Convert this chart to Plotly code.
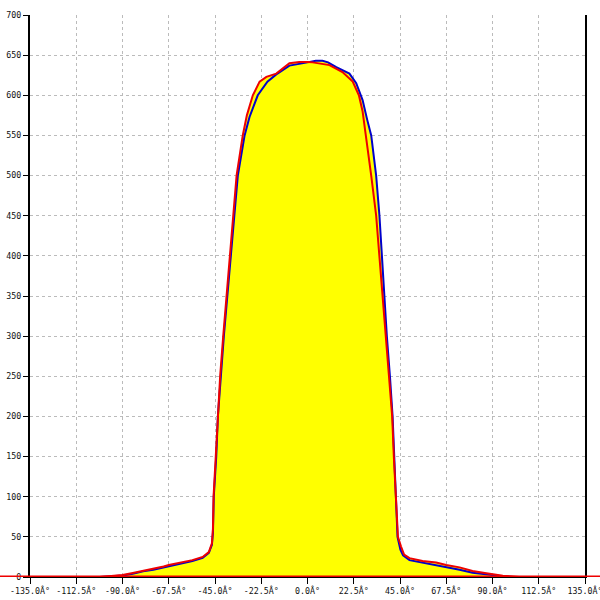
import plotly.graph_objects as go

# Angle (deg) and intensity readings
blue_x = [-101, -95, -90, -85, -80, -75, -70, -67.5, -62, -56, -51, -48, -46.5, -46, -45.6, -44.4, -43.6,
          -42.3, -40.7, -39, -37.4, -35.8, -33.9, -30.6, -28.2, -24.2, -19.5, -15.2, -8.8, 0, 4, 7.3, 10,
          14, 20.4, 23.7, 26.8, 29, 31, 33.4, 35, 36.2, 37.3, 38.6, 40.1, 41.4, 42.2, 43, 43.8, 45.2, 46.5,
          49.6, 56, 62.6, 67.5, 74, 80.3, 87, 90, 95, 100]
blue_y = [0, 1, 2, 4, 7, 9, 12, 14, 17, 20, 24, 30, 40, 55, 100, 150, 200,
          250, 300, 350, 400, 450, 500, 550, 573, 600, 617, 626, 637, 641, 643, 643, 641,
          635, 627, 615, 594, 570, 550, 500, 450, 400, 350, 300, 250, 200, 150, 100, 50, 34, 27,
          21, 18, 15, 13, 9, 5.4, 3.3, 2, 1, 0]

red_x = [-101, -95, -90, -85, -80, -75, -70, -67.5, -62, -56, -51, -48, -46.5, -46, -45.7, -44.6, -43.8,
         -42.5, -41, -39.4, -37.8, -36.3, -34.5, -31.5, -29.5, -26.6, -23.3, -20, -15.2, -8.8, -4, 0, 2.5,
         10.7, 17, 22, 25, 26.8, 28.5, 31, 33.4, 35, 36.6, 38.2, 39.8, 41.2, 42, 43, 44, 45.5, 47,
         49.6, 56, 62.6, 67.5, 74, 80.3, 87, 90, 95, 100, 103]
red_y = [0, 1.5, 2.5, 5, 7.5, 10, 13, 15, 18, 21, 25, 31, 42, 60, 100, 150, 200,
         250, 300, 350, 400, 450, 500, 550, 575, 600, 617, 623, 627, 640, 641.5, 641.5, 641,
         637.6, 629, 617, 600, 580, 550, 500, 450, 400, 350, 300, 250, 200, 150, 100, 50, 38, 28,
         23.5, 20, 18, 15, 12, 7.5, 4.6, 3.3, 1.5, 0.5, 0]

x_ticks = [-135, -112.5, -90, -67.5, -45, -22.5, 0, 22.5, 45, 67.5, 90, 112.5, 135]
x_tick_labels = ["-135.0Â°", "-112.5Â°", "-90.0Â°", "-67.5Â°", "-45.0Â°", "-22.5Â°", "0.0Â°",
                 "22.5Â°", "45.0Â°", "67.5Â°", "90.0Â°", "112.5Â°", "135.0Â°"]
y_ticks = [0, 50, 100, 150, 200, 250, 300, 350, 400, 450, 500, 550, 600, 650, 700]

fig = go.Figure()
# yellow fills under both curves
for xs, ys in [(blue_x, blue_y), (red_x, red_y)]:
    fig.add_trace(go.Scatter(x=xs, y=ys, mode="lines", fill="tozeroy", fillcolor="#FFFF00",
                             line=dict(width=0, color="#FFFF00"), hoverinfo="skip", showlegend=False))
fig.add_trace(go.Scatter(x=blue_x, y=blue_y, mode="lines", line=dict(color="#0000CC", width=2),
                         showlegend=False))
fig.add_trace(go.Scatter(x=red_x, y=red_y, mode="lines", line=dict(color="#EE0000", width=2),
                         showlegend=False))

font = dict(family="DejaVu Sans Mono", size=8.3, color="#111111")
fig.update_layout(
    width=600, height=600,
    margin=dict(l=30, r=15, t=15, b=23, autoexpand=False),
    paper_bgcolor="white", plot_bgcolor="white",
    font=font,
    xaxis=dict(range=[-135, 135], tickvals=x_ticks, ticktext=x_tick_labels, showgrid=True,
               gridcolor="#bbbbbb", griddash="dot", gridwidth=1, zeroline=False,
               showline=True, linecolor="black", linewidth=1, ticks="outside", ticklen=6,
               tickcolor="black", tickfont=font, tickangle=0, automargin=False,
               ticklabeloverflow="allow", fixedrange=True),
    yaxis=dict(range=[0, 700], tickvals=y_ticks, showgrid=True, gridcolor="#bbbbbb", griddash="dot",
               gridwidth=1, zeroline=False, showline=True, linecolor="black", linewidth=2,
               mirror=True, ticks="outside", ticklen=5, tickcolor="black", tickfont=font,
               automargin=False, fixedrange=True),
)
# red baseline across the whole width at y = 0
fig.add_shape(type="line", xref="paper", yref="y", x0=-30 / 555, x1=1 + 15 / 555, y0=0, y1=0,
              line=dict(color="#EE0000", width=3), layer="above")

fig.write_html("out.html", config={"displayModeBar": False},
               post_script="document.body.style.margin='0';document.body.style.overflow='hidden';")
